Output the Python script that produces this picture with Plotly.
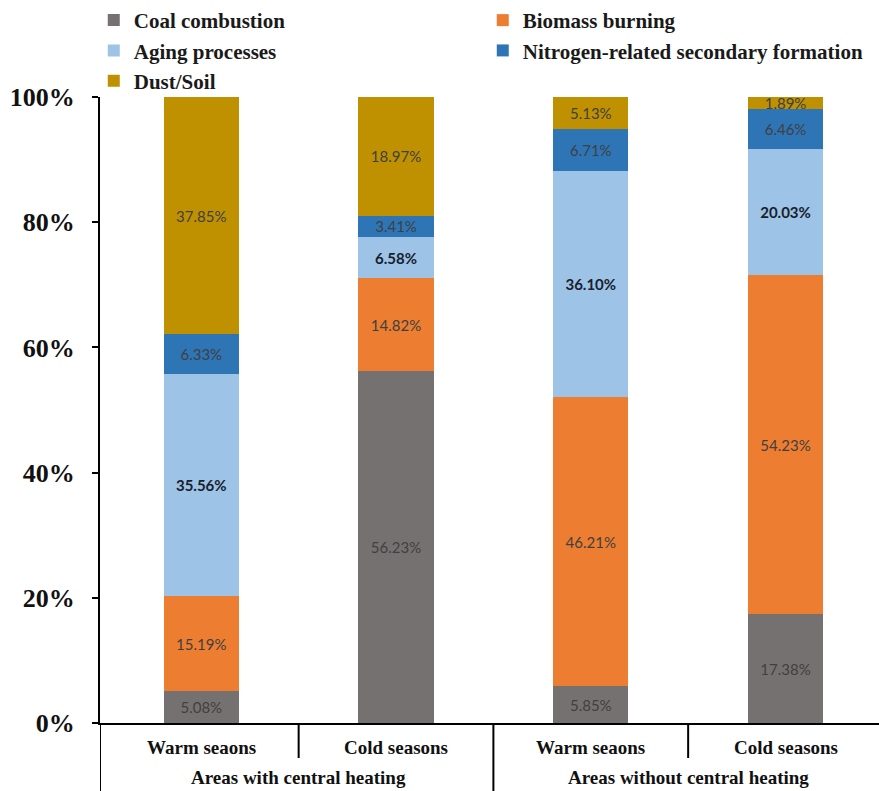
import plotly.graph_objects as go

# Categories (two-level x axis)
areas = ["Areas with central heating", "Areas with central heating",
         "Areas without central heating", "Areas without central heating"]
seasons = ["Warm seaons", "Cold seasons", "Warm seaons", "Cold seasons"]
group_labels = ["Areas with central heating", "Areas without central heating"]

# Source contributions (%)
coal = [5.08, 56.23, 5.85, 17.38]
biomass = [15.19, 14.82, 46.21, 54.23]
aging = [35.56, 6.58, 36.10, 20.03]
nitrogen = [6.33, 3.41, 6.71, 6.46]
dust = [37.85, 18.97, 5.13, 1.89]

y_ticks = [0, 20, 40, 60, 80, 100]
y_tick_text = ["0%", "20%", "40%", "60%", "80%", "100%"]

series = [
    ("Coal combustion", coal, "#767171", "#404040", "normal"),
    ("Biomass burning", biomass, "#ED7D31", "#404040", "normal"),
    ("Aging processes", aging, "#9DC3E6", "#17202c", "bold"),
    ("Nitrogen-related secondary formation", nitrogen, "#2E75B6", "#404040", "normal"),
    ("Dust/Soil", dust, "#BF9000", "#404040", "normal"),
]

x_idx = list(range(len(seasons)))

fig = go.Figure()
for name, vals, color, tcolor, weight in series:
    fig.add_trace(go.Bar(
        x=x_idx, y=vals, name=name,
        marker=dict(color=color, line=dict(width=0)),
        texttemplate="%{y:.2f}%",
        textposition="inside",
        insidetextanchor="middle",
        textangle=0,
        constraintext="none",
        cliponaxis=False,
        textfont=dict(family="Lato", size=15, color=tcolor, weight=weight),
        hoverinfo="skip",
    ))

serif = "Liberation Serif, Times New Roman, serif"

annotations = []
for i, s in enumerate(seasons):
    annotations.append(dict(
        x=i, y=0, xref="x", yref="paper", text=s, showarrow=False,
        yanchor="middle", yshift=-24,
        font=dict(family=serif, size=19, color="#111111", weight="bold"),
    ))
for g, label in enumerate(group_labels):
    annotations.append(dict(
        x=2 * g + 0.5, y=0, xref="x", yref="paper", text=label, showarrow=False,
        yanchor="middle", yshift=-54,
        font=dict(family=serif, size=19, color="#111111", weight="bold"),
    ))

shapes = []
# short dividers between seasons, long dividers between area groups
for xpos, length in [(0.5, 35), (2.5, 35), (-0.52, 70), (1.5, 70)]:
    shapes.append(dict(
        type="line", xref="x", yref="paper", ysizemode="pixel", yanchor=0,
        x0=xpos, x1=xpos, y0=0, y1=-length,
        line=dict(color="black", width=2),
    ))

fig.update_layout(
    width=879, height=791,
    margin=dict(l=100, r=0, t=97, b=68, autoexpand=False),
    barmode="stack",
    bargap=0.613,
    plot_bgcolor="white",
    paper_bgcolor="white",
    showlegend=True,
    font=dict(family=serif),
    legend=dict(
        orientation="h",
        x=-0.008, y=1.155, xanchor="left", yanchor="top",
        entrywidth=344, entrywidthmode="pixels",
        traceorder="normal",
        font=dict(family=serif, size=21, color="#1a1a1a", weight="bold"),
        bgcolor="rgba(0,0,0,0)",
    ),
    xaxis=dict(
        range=[-0.52, 3.48],
        showticklabels=False,
        showgrid=False, zeroline=False,
        showline=True, linecolor="black", linewidth=2,
        ticks="",
    ),
    yaxis=dict(
        # rounded shares sum to 100.01 in two columns
        range=[0, 100.02],
        tickmode="array",
        tickvals=y_ticks,
        ticktext=y_tick_text,
        showgrid=False, zeroline=False,
        showline=True, linecolor="black", linewidth=2,
        ticks="outside", ticklen=6, tickwidth=2, tickcolor="black",
        ticklabelstandoff=12,
        tickfont=dict(family=serif, size=26, color="#111111", weight="bold"),
    ),
    annotations=annotations,
    shapes=shapes,
)

fig.write_html("out.html")
